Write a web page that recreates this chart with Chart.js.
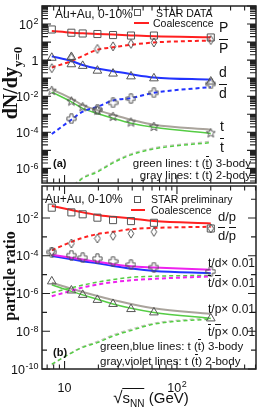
<!DOCTYPE html>
<html><head><meta charset="utf-8">
<script src="https://cdn.jsdelivr.net/npm/chart.js@4/dist/chart.umd.min.js"></script>
<style>
html,body{margin:0;padding:0;background:#fff;}
#wrap{position:relative;width:262px;height:410px;overflow:hidden;font-family:"Liberation Sans",Arial,sans-serif;color:#111;}
canvas{position:absolute;left:0;top:0;}
.t{position:absolute;white-space:nowrap;line-height:1;}
.ob{border-top:1.2px solid #111;}
.sq{position:absolute;width:5px;height:5px;border:1px solid #555;}
.rl{position:absolute;height:2px;background:#ff2020;}
</style></head>
<body><div id="wrap">
<canvas id="ca" width="262" height="410"></canvas>
<canvas id="cb" width="262" height="410"></canvas>

<!-- panel (a) texts -->
<div class="t" style="left:55px;top:8px;font-size:12px">Au+Au, 0-10%</div>
<div class="sq" style="left:134px;top:9px"></div>
<div class="t" style="left:156px;top:7.5px;font-size:10.5px">STAR DATA</div>
<div class="rl" style="left:134px;top:22px;width:15px"></div>
<div class="t" style="left:153px;top:18px;font-size:10.5px">Coalescence</div>
<div class="t" style="left:219px;top:20px;font-size:14px">P</div>
<div class="t" style="left:219px;top:41px;font-size:14px"><span class="ob">P</span></div>
<div class="t" style="left:219px;top:65px;font-size:14px">d</div>
<div class="t" style="left:219px;top:86px;font-size:14px"><span class="ob">d</span></div>
<div class="t" style="left:220px;top:119px;font-size:14px">t</div>
<div class="t" style="left:220px;top:140px;font-size:14px"><span class="ob">t</span></div>
<div class="t" style="right:11px;top:157.5px;font-size:11.5px">green lines: t (<span class="ob">t</span>) 3-body</div>
<div class="t" style="right:11px;top:169.5px;font-size:11.5px">gray lines: t (<span class="ob">t</span>) 2-body</div>
<div class="t" style="left:53px;top:157.5px;font-size:11px;font-weight:bold">(a)</div>

<!-- panel (b) texts -->
<div class="t" style="left:45px;top:193px;font-size:12px">Au+Au, 0-10%</div>
<div class="sq" style="left:134px;top:196px"></div>
<div class="t" style="left:151px;top:194px;font-size:10.5px">STAR preliminary</div>
<div class="rl" style="left:131px;top:209px;width:14px"></div>
<div class="t" style="left:151px;top:205px;font-size:10.5px">Coalescence</div>
<div class="t" style="left:218px;top:209.5px;font-size:13px">d/p</div>
<div class="t" style="left:218px;top:228.5px;font-size:13px"><span class="ob">d</span>/<span class="ob">p</span></div>
<div class="t" style="left:208px;top:257px;font-size:12px">t/d× 0.01</div>
<div class="t" style="left:208px;top:277px;font-size:12px"><span class="ob">t</span>/<span class="ob">d</span>× 0.01</div>
<div class="t" style="left:208px;top:303px;font-size:12px">t/p× 0.01</div>
<div class="t" style="left:208px;top:326px;font-size:12px"><span class="ob">t</span>/<span class="ob">p</span>× 0.01</div>
<div class="t" style="left:100px;top:340.5px;font-size:11.5px">green,blue lines: t (<span class="ob">t</span>) 3-body</div>
<div class="t" style="left:100px;top:355.5px;font-size:11.5px">gray,violet lines: t (<span class="ob">t</span>) 2-body</div>
<div class="t" style="left:53px;top:346.5px;font-size:11px;font-weight:bold">(b)</div>

<!-- axis titles -->
<div class="t" style="left:12px;top:83px;transform:translate(-50%,-50%) rotate(-90deg);font:bold 20px 'Liberation Serif',serif;">dN/dy<sub style="font-size:13px">y=0</sub></div>
<div class="t" style="left:10px;top:276px;transform:translate(-50%,-50%) rotate(-90deg);font:bold 16px 'Liberation Serif',serif;">particle ratio</div>
<div class="t" style="left:151px;top:399px;transform:translate(-50%,-50%);font-size:15px;"><span style="font-size:17px">√</span><span style="border-top:1px solid #111">s<sub style="font-size:10px">NN</sub></span> (GeV)</div>
</div>

<script>
// ---------------- data ----------------
const energies = [7.7, 11.5, 14.5, 19.6, 27, 39, 62.4, 200];

// panel (a): dN/dy
const pData      = [50, 33, 30, 28, 24.5, 23, 23, 18];
const pbarData   = [0.36, 1.35, null, 4.2, 5.8, 8, 9.5, 13];
const dData      = [1.35, 0.59, 0.48, 0.26, 0.18, 0.126, 0.098, 0.065];
const dDataExtra = [null, 1.5, null, null, null, null, null, null];
const dbarData   = [null, 5.6e-4, null, 1.8e-3, 4.3e-3, 7.4e-3, 0.0155, 0.048];
const tData      = [0.021, 5.4e-3, 2.6e-3, 1.7e-3, 7.6e-4, 3.7e-4, 2.1e-4, 9.3e-5];
const pCoal      = [41, 33, 30.5, 28, 26, 23.5, 21, 18.6];
const pbarCoal   = [0.39, 0.89, 1.7, 3.8, 5.1, 7.1, 9.5, 12.3];
const dCoal      = [1.66, 0.89, 0.54, 0.34, 0.245, 0.166, 0.11, 0.083];
const dbarCoal   = [8e-5, 5e-4, 1.4e-3, 2.6e-3, 5.8e-3, 7.9e-3, 0.0155, 0.032];
const tCoal3     = [0.017, 4.9e-3, 2.1e-3, 1.1e-3, 6e-4, 3.2e-4, 1.9e-4, 8.7e-5];
const tCoal2     = [0.024, 7.4e-3, 3.2e-3, 1.7e-3, 9.3e-4, 5e-4, 2.6e-4, 1.4e-4];
const tbarCoal3  = [1.3e-8, 8e-8, 2.8e-7, 6.3e-7, 2e-6, 5.6e-6, 1.2e-5, 2.7e-5];
const tbarCoal2  = [1.5e-8, 9.4e-8, 3.2e-7, 7.3e-7, 2.3e-6, 6.5e-6, 1.4e-5, 3.2e-5];

// panel (b): particle ratios
const dpData     = [0.0355, 0.020, 0.0158, 0.0105, 0.0078, 0.0069, 0.0056, 0.0028];
const dbpbData   = [1.7e-4, 4.5e-4, null, 8.3e-4, 1.15e-3, 1.5e-3, 1.86e-3, 2.8e-3];
const tdData     = [1.58e-4, 1.07e-4, 7.9e-5, 7.1e-5, 5.1e-5, 3.4e-5, 2.5e-5, 1.48e-5];
const tpData     = [4.4e-6, 1.45e-6, 8.5e-7, 4.6e-7, 2.8e-7, 1.5e-7, 1e-7, 4.8e-8];
const dpCoal     = [0.0437, 0.0269, 0.020, 0.0145, 0.0117, 0.0095, 0.0069, 0.0052];
const dbpbCoal   = [1.95e-4, 5.5e-4, 8.9e-4, 1.41e-3, 1.86e-3, 2.57e-3, 3.0e-3, 3.47e-3];
const tdCoal2    = [1.15e-4, 7.9e-5, 6.3e-5, 4.8e-5, 3.6e-5, 2.75e-5, 2.4e-5, 1.8e-5];
const tdCoal3    = [9.8e-5, 6.6e-5, 5.2e-5, 4e-5, 2.9e-5, 2.1e-5, 1.55e-5, 1.2e-5];
const tbdbCoal2  = [7.2e-7, 1.4e-6, 2.1e-6, 3e-6, 4e-6, 5e-6, 6e-6, 8.1e-6];
const tbdbCoal3  = [1.1e-6, 2e-6, 2.8e-6, 4e-6, 5.5e-6, 7.2e-6, 8.3e-6, 9.1e-6];
const tpCoal2    = [3.7e-6, 1.78e-6, 1.2e-6, 7.4e-7, 4.5e-7, 2.8e-7, 1.66e-7, 8.3e-8];
const tpCoal3    = [2.9e-6, 1.3e-6, 8.5e-7, 5e-7, 2.8e-7, 1.66e-7, 1e-7, 4.8e-8];
const tbpbCoal3  = [1.8e-10, 7e-10, 1.4e-9, 2.5e-9, 5.6e-9, 1.1e-8, 2.4e-8, 4.5e-8];
const tbpbCoal2  = [1.6e-10, 7.5e-10, 1.55e-9, 2.9e-9, 6.5e-9, 1.3e-8, 2.7e-8, 5.2e-8];

// tick labels
const xTickVals   = [10, 100];
const xTickLabels = ['10', '10^2'];
const yTickValsA   = [100, 1, 0.01, 1e-4, 1e-6];
const yTickLabelsA = ['10^2', '1', '10^-2', '10^-4', '10^-6'];
const yTickValsB   = [1e-2, 1e-4, 1e-6, 1e-8, 1e-10];
const yTickLabelsB = ['10^-2', '10^-4', '10^-6', '10^-8', '10^-10'];

// ---------------- helpers ----------------
const MK = '#555';
function pts(ys) { return energies.map((x, i) => ys[i] == null ? null : {x: x, y: ys[i]}).filter(Boolean); }
function mkCanvas(w, h, draw) {
  const c = document.createElement('canvas'); c.width = w; c.height = h;
  const g = c.getContext('2d'); g.strokeStyle = MK; g.lineWidth = 1; draw(g); return c;
}
const starImg = mkCanvas(11, 11, g => {
  g.beginPath();
  for (let i = 0; i < 10; i++) {
    const r = i % 2 ? 2.1 : 4.8, a = -Math.PI / 2 + i * Math.PI / 5;
    const x = 5.5 + r * Math.cos(a), y = 5.8 + r * Math.sin(a);
    i ? g.lineTo(x, y) : g.moveTo(x, y);
  }
  g.closePath(); g.stroke();
});
const crossImg = mkCanvas(11, 11, g => {
  const c = 5.5, a = 1.6, r = 4.6;
  g.beginPath();
  g.moveTo(c - a, c - r); g.lineTo(c + a, c - r); g.lineTo(c + a, c - a); g.lineTo(c + r, c - a);
  g.lineTo(c + r, c + a); g.lineTo(c + a, c + a); g.lineTo(c + a, c + r); g.lineTo(c - a, c + r);
  g.lineTo(c - a, c + a); g.lineTo(c - r, c + a); g.lineTo(c - r, c - a); g.lineTo(c - a, c - a);
  g.closePath(); g.stroke();
});
const diamImg = mkCanvas(8, 11, g => {
  g.beginPath(); g.moveTo(4, 1); g.lineTo(6.8, 5.5); g.lineTo(4, 10); g.lineTo(1.2, 5.5); g.closePath(); g.stroke();
});

function marker(ys, style, r) {
  return {data: pts(ys), showLine: false, pointStyle: style, pointRadius: r, pointBorderColor: MK,
          pointBackgroundColor: 'rgba(0,0,0,0)', pointBorderWidth: 1, order: 0};
}
function line(ys, color, width, dashed, ord) {
  return {data: pts(ys), showLine: true, borderColor: color, borderWidth: width,
          borderDash: dashed ? [4, 3] : [], pointRadius: 0, fill: false,
          cubicInterpolationMode: 'monotone', order: ord || 1};
}

const RED = '#ff2020', BLUE = '#2233ff', GREEN = '#55cc44', GRAY = '#aaa49c', MAG = '#ee22ee';
const BASE_FONT = '12.5px "Liberation Sans", Arial, sans-serif';
const EXP_FONT = '9px "Liberation Sans", Arial, sans-serif';

function drawPow(ctx, label, x, y, align) {
  const parts = label.split('^'); const b = parts[0], e = parts[1];
  ctx.font = BASE_FONT; const wb = ctx.measureText(b).width;
  let we = 0; if (e) { ctx.font = EXP_FONT; we = ctx.measureText(e).width + 0.5; }
  const tot = wb + we;
  const x0 = align === 'right' ? x - tot : x - tot / 2;
  ctx.textAlign = 'left'; ctx.textBaseline = 'alphabetic'; ctx.fillStyle = '#111';
  ctx.font = BASE_FONT; ctx.fillText(b, x0, y + 4.5);
  if (e) { ctx.font = EXP_FONT; ctx.fillText(e, x0 + wb + 0.5, y + 0.3); }
}

const framePlugin = {
  id: 'frame',
  afterDatasetsDraw(chart, args, o) {
    const ctx = chart.ctx, a = chart.chartArea, xs = chart.scales.x, ys = chart.scales.y;
    ctx.save();
    ctx.strokeStyle = '#222'; ctx.lineWidth = 1.1;
    ctx.beginPath();
    for (let d = 0; d <= 3; d++) for (let m = 1; m <= 9; m++) {
      const v = m * Math.pow(10, d);
      if (v < xs.min || v > xs.max) continue;
      const px = xs.getPixelForValue(v), L = m === 1 ? 8 : 4.5;
      ctx.moveTo(px, a.bottom); ctx.lineTo(px, a.bottom - L);
      ctx.moveTo(px, a.top); ctx.lineTo(px, a.top + L);
    }
    for (let d = o.decMin; d <= o.decMax; d++) {
      for (let m = 1; m <= (o.minor ? 9 : 1); m++) {
        const v = m * Math.pow(10, d);
        if (v < ys.min * 0.999 || v > ys.max * 1.001) continue;
        const py = ys.getPixelForValue(v);
        let L = o.minor ? (m === 1 ? 9 : 6) : (d % 2 === 0 ? 8 : 5);
        ctx.moveTo(a.left, py); ctx.lineTo(a.left + L, py);
        ctx.moveTo(a.right, py); ctx.lineTo(a.right - L, py);
      }
    }
    ctx.stroke();
    ctx.lineWidth = 1.5;
    ctx.strokeRect(a.left, a.top, a.right - a.left, a.bottom - a.top);
    o.yVals.forEach((v, i) => drawPow(ctx, o.yLabels[i], a.left - 3.5, ys.getPixelForValue(v), 'right'));
    if (o.xLabels) xTickVals.forEach((v, i) => drawPow(ctx, xTickLabels[i], xs.getPixelForValue(v), 387, 'center'));
    ctx.restore();
  }
};

function makeChart(id, datasets, pad, ymin, ymax, frameOpts) {
  return new Chart(document.getElementById(id), {
    type: 'scatter',
    data: {datasets: datasets},
    options: {
      responsive: false, animation: false, events: [],
      layout: {padding: pad},
      plugins: {legend: {display: false}, tooltip: {enabled: false}, frame: frameOpts},
      scales: {
        x: {type: 'logarithmic', min: 6.3, max: 505, display: false},
        y: {type: 'logarithmic', min: ymin, max: ymax, display: false}
      }
    },
    plugins: [framePlugin]
  });
}

makeChart('ca', [
  marker(pData, 'rect', 5),
  marker(pbarData, diamImg, 4),
  marker(dData, 'triangle', 5),
  marker(dDataExtra, 'triangle', 5),
  marker(dbarData, crossImg, 5),
  marker(tData, starImg, 5),
  line(pCoal, RED, 2, false),
  line(pbarCoal, RED, 2, true),
  line(dCoal, BLUE, 2, false),
  line(dbarCoal, BLUE, 2, true),
  line(tCoal3, GREEN, 1.5, false),
  line(tCoal2, GRAY, 2, false),
  line(tbarCoal3, GREEN, 1.5, true),
  line(tbarCoal2, '#c4c0bb', 1.2, true, 2)
], {left: 42, top: 2, right: 2, bottom: 227}, Math.pow(10, -6.81), 1000,
  {decMin: -7, decMax: 3, minor: true, yVals: yTickValsA, yLabels: yTickLabelsA, xLabels: false});

makeChart('cb', [
  marker(dpData, 'rect', 5),
  marker(dbpbData, diamImg, 4),
  marker(tdData, crossImg, 5),
  marker(tpData, 'triangle', 5),
  line(dpCoal, RED, 2, false),
  line(dbpbCoal, RED, 2, true),
  line(tdCoal2, MAG, 2, false),
  line(tdCoal3, BLUE, 2, false),
  line(tbdbCoal2, MAG, 2, true),
  line(tbdbCoal3, GREEN, 1.5, true),
  line(tpCoal2, GRAY, 2, false),
  line(tpCoal3, GREEN, 1.5, false),
  line(tbpbCoal3, GREEN, 1.5, true),
  line(tbpbCoal2, '#c4c0bb', 1.2, true, 2)
], {left: 42, top: 186, right: 2, bottom: 41}, 1e-10, 0.5,
  {decMin: -10, decMax: -1, minor: false, yVals: yTickValsB, yLabels: yTickLabelsB, xLabels: true});
</script>
</body></html>
